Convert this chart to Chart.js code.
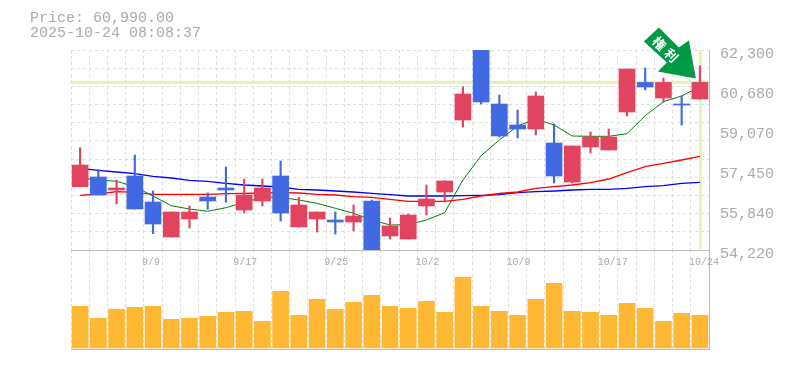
<!DOCTYPE html>
<html lang="ja">
<head>
  <meta charset="UTF-8" />
  <title>Price</title>
  <script src="https://cdn.jsdelivr.net/npm/chart.js"></script>
  <style>
    body { margin: 0; background: #fff; }
    #wrap { position: relative; width: 785px; height: 370px; overflow: hidden; }
    canvas { position: absolute; left: 0; }
    #head { position: absolute; left: 30px; top: 11px; font: 15px/15px "Liberation Mono", monospace; color: #aaa; white-space: pre; }
  </style>
</head>
<body>
  <div id="wrap">
    <canvas id="vol" width="785" height="100" style="top:250px"></canvas>
    <canvas id="price" width="785" height="270" style="top:0"></canvas>
    <div id="head">Price: 60,990.00
2025-10-24 08:08:37</div>
  </div>
  <script>
    const dates = ["9/3","9/4","9/5","9/8","9/9","9/10","9/11","9/12","9/16","9/17","9/18","9/19","9/22","9/24","9/25","9/26","9/29","9/30","10/1","10/2","10/3","10/6","10/7","10/8","10/9","10/10","10/14","10/15","10/16","10/17","10/20","10/21","10/22","10/23","10/24"];
    const open = [56777,57169,56644,57210,56159,54745,55472,56361,56725,55836,56200,57210,55149,55472,55432,55351,56200,54786,54664,55998,56563,59472,62502,60118,59270,59108,58543,56967,58381,58260,59795,60990,60361,60118,60320];
    const high = [58353,57480,57048,58058,56604,55755,55998,56523,57573,57088,57088,57816,56349,55755,55755,56038,56240,55513,55674,56846,57008,60805,62550,60482,59876,60603,59310,58422,58987,59108,61532,61573,61169,60442,61654];
    const low = [56777,56442,56078,55876,54879,54745,55109,55864,56159,55715,55998,55392,55149,54947,54866,54988,54018,54664,54664,55634,56159,59189,60118,58785,58745,58866,56927,56927,58139,58260,59634,60684,60199,59270,60320];
    const close = [57654,56442,56725,55876,55270,55755,55755,56200,56644,56442,56725,55715,56038,55755,55351,55594,54018,55190,55634,56280,57008,60522,60199,58826,59108,60442,57210,58422,58785,58785,61532,60805,60990,60078,60990];
    const maShort = [57129,57048,56995,56777,56402,56010,55876,55783,55929,56147,56349,56349,56240,56107,55905,55703,55432,55230,55242,55432,55727,57048,58030,58664,59230,59512,59270,58826,58813,58813,58919,59646,60211,60442,60817];
    const maMid = [56430,56482,56575,56551,56470,56470,56470,56470,56495,56511,56523,56535,56523,56470,56442,56373,56349,56268,56187,56187,56187,56268,56402,56503,56563,56713,56777,56846,56939,57088,57343,57585,57723,57856,58005];
    const maLong = [57521,57440,57371,57303,57197,57129,57036,56995,56915,56846,56806,56765,56672,56644,56604,56563,56511,56454,56402,56402,56402,56414,56430,56454,56535,56575,56604,56644,56672,56672,56713,56777,56818,56915,56955];
    const volume = [4170,2970,3870,4070,4170,2870,2970,3170,3570,3670,2670,5670,3270,4870,3870,4570,5270,4170,3970,4670,3570,7070,4170,3670,3270,4870,6470,3670,3570,3270,4470,3970,2670,3470,3270];
    const priceTicks = [62300,60680,59070,57450,55840,54220];
    const gridTicks = [62300,61565,60831,60096,59362,58627,57893,57158,56424,55689,54955,54220];
    const lastPrice = 60990;

    const RED = "#e2435f", BLUE = "#4169e1", AXIS = "#bbbbbb", TEXT = "#aaaaaa", GRID = "#dddddd", MARK = "#e4f5b0";
    const candleColor = open.map((o, i) => close[i] >= o ? RED : BLUE);

    // pale crosshair on the last price, and the green arrow above the last candle
    const marks = {
      id: "marks",
      beforeDatasetsDraw(chart) {
        const { ctx, chartArea: a, scales: { x, y } } = chart;
        ctx.save();
        ctx.fillStyle = MARK;
        ctx.fillRect(a.left - 1, y.getPixelForValue(lastPrice) - 1.5, a.right - a.left + 1, 3);
        ctx.fillRect(x.getPixelForValue(dates.length - 1) - 1, a.top, 3, a.bottom - a.top - 1);
        ctx.restore();
      },
      afterDraw(chart) {
        const { ctx, scales: { x, y } } = chart;
        const tx = x.getPixelForValue(dates.length - 1) - 4;
        const ty = y.getPixelForValue(lastPrice) - 4;
        const pts = [[-37,-51],[-17,-31],[-7,-38],[0,0],[-38,-7],[-29,-16],[-52,-37]];
        ctx.save();
        ctx.fillStyle = "#009944";
        ctx.beginPath();
        pts.forEach(([dx, dy], i) => i ? ctx.lineTo(tx + dx, ty + dy) : ctx.moveTo(tx + dx, ty + dy));
        ctx.closePath();
        ctx.fill();
        ctx.translate(tx - 30.5, ty - 29);
        ctx.rotate(Math.PI / 4);
        ctx.fillStyle = "#fff";
        ctx.font = "bold 13px 'Noto Sans CJK JP'";
        ctx.textAlign = "center";
        ctx.textBaseline = "middle";
        ctx.fillText("権", -8.5, 0);
        ctx.fillText("利", 8.5, 0);
        ctx.restore();
      }
    };

    const lineSet = (data, color, width, order) => ({
      type: "line", data, yAxisID: "y", borderColor: color, borderWidth: width,
      pointRadius: 0, tension: 0, fill: false, order
    });
    const xGrid = { color: GRID, drawTicks: false, offset: true };

    new Chart(document.getElementById("price"), {
      type: "bar",
      data: {
        labels: dates,
        datasets: [
          { data: open.map((o, i) => [o, close[i]]), backgroundColor: candleColor, barThickness: 16, grouped: false, order: 1 },
          { data: high.map((h, i) => [low[i], h]), backgroundColor: candleColor, barThickness: 1.5, grouped: false, order: 2 },
          lineSet(maShort, "#008000", 1, 3),
          lineSet(maMid, "#ff0000", 1.3, 3),
          lineSet(maLong, "#0000ff", 1.3, 3)
        ]
      },
      options: {
        responsive: false,
        animation: false,
        events: [],
        layout: { padding: { left: 71, top: 50 } },
        plugins: { legend: { display: false }, tooltip: { enabled: false } },
        scales: {
          x: {
            offset: true,
            grid: xGrid,
            border: { color: AXIS, dash: [3, 3] },
            ticks: {
              autoSkip: false, maxRotation: 0, align: "start", labelOffset: -11, padding: 6,
              color: TEXT, font: { family: "Liberation Mono", size: 10 },
              callback: (v, i) => i % 5 === 4 ? dates[i] : ""
            },
            afterFit(s) { s.height = 20; s.paddingLeft = 0; s.paddingRight = 0; }
          },
          y: {
            position: "right", min: 54220, max: 62300,
            grid: { display: false, drawTicks: false },
            border: { color: AXIS },
            ticks: {
              padding: 11, labelOffset: 4, color: TEXT,
              font: { family: "Liberation Mono", size: 15 },
              callback: v => v.toLocaleString("en-US")
            },
            afterBuildTicks(s) { s.ticks = priceTicks.map(value => ({ value })); },
            afterFit(s) { s.width = 76; s.paddingTop = 0; s.paddingBottom = 0; }
          },
          yGrid: {
            position: "left", min: 54220, max: 62300,
            grid: { color: GRID, drawTicks: false },
            border: { display: false, dash: [3, 3] },
            ticks: { display: false },
            afterBuildTicks(s) { s.ticks = gridTicks.map(value => ({ value })); },
            afterFit(s) { s.width = 0; }
          }
        }
      },
      plugins: [marks]
    });

    new Chart(document.getElementById("vol"), {
      type: "bar",
      data: {
        labels: dates,
        datasets: [{ data: volume, backgroundColor: "#ffb833", barThickness: 16 }]
      },
      options: {
        responsive: false,
        animation: false,
        events: [],
        layout: { padding: { left: 71, bottom: 1 } },
        plugins: { legend: { display: false }, tooltip: { enabled: false } },
        scales: {
          x: {
            offset: true,
            grid: xGrid,
            border: { color: AXIS, dash: [3, 3] },
            ticks: { display: false, autoSkip: false }
          },
          y: {
            position: "right", min: -100, max: 9800,
            grid: { display: false },
            border: { color: AXIS },
            ticks: { display: false },
            afterFit(s) { s.width = 76; }
          }
        }
      }
    });
  </script>
</body>
</html>
